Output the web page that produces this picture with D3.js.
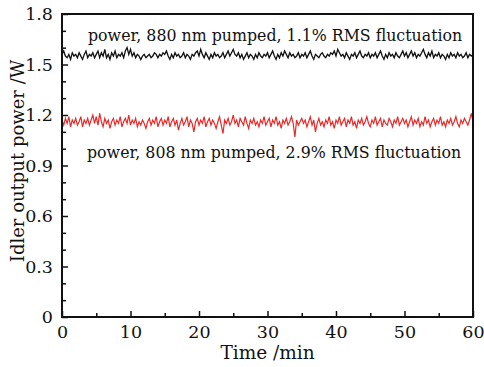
<!DOCTYPE html>
<html>
<head>
<meta charset="utf-8">
<script src="https://cdn.jsdelivr.net/npm/d3@7"></script>
<style>
body { margin: 0; background: #fff; }
text { font-family: "DejaVu Serif", serif; fill: #111; }
</style>
</head>
<body>
<div id="chart"></div>
<script>
let svgWidth = 484;
let svgHeight = 367;

let margin = { top: 14, right: 11, bottom: 50, left: 62 };
let width = svgWidth - margin.left - margin.right;
let height = svgHeight - margin.top - margin.bottom;

// sampling step of the recorded traces (min)
let sampleStep = 0.25;

// 880 nm pumped trace (W)
let power880 = [
  1.56,1.58,1.55,1.54,1.56,1.53,1.57,1.55,1.56,1.54,1.57,1.55,1.53,1.56,1.58,1.54,1.56,1.55,1.57,1.54,
  1.56,1.58,1.54,1.57,1.55,1.59,1.54,1.56,1.53,1.57,1.55,1.58,1.54,1.56,1.55,1.57,1.54,1.58,1.60,1.56,
  1.59,1.55,1.57,1.54,1.56,1.55,1.53,1.55,1.56,1.54,1.55,1.56,1.54,1.55,1.57,1.56,1.54,1.56,1.55,1.57,
  1.56,1.58,1.55,1.53,1.56,1.54,1.57,1.55,1.56,1.54,1.55,1.57,1.54,1.56,1.55,1.53,1.56,1.55,1.57,1.58,
  1.55,1.59,1.56,1.54,1.57,1.55,1.53,1.56,1.54,1.57,1.55,1.56,1.54,1.55,1.57,1.54,1.56,1.58,1.55,1.57,
  1.59,1.56,1.55,1.57,1.54,1.56,1.53,1.55,1.57,1.54,1.56,1.55,1.53,1.56,1.54,1.57,1.55,1.54,1.56,1.55,
  1.57,1.54,1.56,1.58,1.55,1.53,1.56,1.54,1.57,1.55,1.58,1.56,1.54,1.57,1.55,1.56,1.54,1.55,1.57,1.54,
  1.56,1.55,1.57,1.54,1.56,1.58,1.55,1.53,1.56,1.55,1.54,1.56,1.57,1.55,1.54,1.56,1.55,1.57,1.56,1.58,
  1.55,1.59,1.57,1.55,1.56,1.54,1.57,1.55,1.53,1.56,1.55,1.57,1.54,1.56,1.58,1.55,1.54,1.56,1.55,1.57,
  1.54,1.56,1.55,1.57,1.54,1.56,1.58,1.55,1.53,1.56,1.54,1.57,1.55,1.56,1.54,1.57,1.55,1.54,1.56,1.58,
  1.55,1.57,1.54,1.56,1.58,1.55,1.57,1.54,1.56,1.55,1.57,1.59,1.56,1.54,1.57,1.55,1.58,1.54,1.56,1.55,
  1.57,1.54,1.56,1.55,1.53,1.56,1.54,1.57,1.55,1.56,1.54,1.57,1.55,1.56,1.54,1.55,1.57,1.54,1.56,1.55,
  1.56
];

// 808 nm pumped trace (W)
let power808 = [
  1.17,1.14,1.18,1.15,1.19,1.13,1.17,1.15,1.18,1.14,1.16,1.19,1.13,1.17,1.15,1.18,1.14,1.17,1.20,1.15,
  1.19,1.14,1.21,1.16,1.13,1.18,1.15,1.17,1.12,1.16,1.18,1.14,1.17,1.15,1.19,1.13,1.16,1.18,1.15,1.20,
  1.14,1.17,1.15,1.18,1.13,1.16,1.14,1.17,1.15,1.12,1.16,1.18,1.14,1.17,1.15,1.19,1.13,1.16,1.18,1.14,
  1.17,1.15,1.19,1.13,1.16,1.18,1.14,1.17,1.11,1.15,1.18,1.14,1.16,1.19,1.13,1.17,1.15,1.10,1.16,1.18,
  1.14,1.17,1.15,1.19,1.13,1.16,1.18,1.14,1.17,1.15,1.12,1.16,1.19,1.14,1.09,1.17,1.15,1.18,1.14,1.16,
  1.20,1.15,1.17,1.13,1.18,1.16,1.14,1.19,1.15,1.12,1.17,1.15,1.18,1.14,1.16,1.13,1.17,1.15,1.19,1.14,
  1.16,1.18,1.13,1.17,1.15,1.19,1.14,1.16,1.12,1.17,1.15,1.18,1.14,1.16,1.19,1.15,1.07,1.17,1.14,1.16,
  1.18,1.15,1.17,1.13,1.16,1.19,1.14,1.17,1.10,1.15,1.18,1.14,1.16,1.13,1.17,1.15,1.19,1.14,1.16,1.12,
  1.17,1.15,1.19,1.14,1.16,1.18,1.13,1.17,1.15,1.19,1.14,1.16,1.12,1.17,1.15,1.18,1.14,1.16,1.19,1.15,
  1.13,1.17,1.15,1.19,1.14,1.16,1.18,1.13,1.17,1.15,1.14,1.18,1.16,1.13,1.17,1.15,1.19,1.14,1.16,1.18,
  1.15,1.17,1.13,1.16,1.19,1.14,1.17,1.15,1.18,1.13,1.16,1.14,1.19,1.15,1.17,1.13,1.16,1.18,1.14,1.17,
  1.15,1.19,1.14,1.16,1.13,1.17,1.15,1.18,1.14,1.16,1.19,1.15,1.13,1.17,1.15,1.18,1.16,1.14,1.17,1.21,
  1.16
];

let xTicks = [0, 10, 20, 30, 40, 50, 60];
let xMinorTicks = [5, 15, 25, 35, 45, 55];
let yTicks = [0, 0.3, 0.6, 0.9, 1.2, 1.5, 1.8];
let yMinorTicks = [0.1, 0.2, 0.4, 0.5, 0.7, 0.8, 1.0, 1.1, 1.3, 1.4, 1.6, 1.7];

let label880 = "power, 880 nm pumped, 1.1% RMS fluctuation";
let label808 = "power, 808 nm pumped, 2.9% RMS fluctuation";

let svg = d3.select("#chart")
  .append("svg")
  .attr("width", svgWidth)
  .attr("height", svgHeight);

let chartGroup = svg.append("g")
  .attr("transform", `translate(${margin.left}, ${margin.top})`);

let xScale = d3.scaleLinear().domain([0, 60]).range([0, width]);
let yScale = d3.scaleLinear().domain([0, 1.8]).range([height, 0]);

// traces
let line = d3.line()
  .x((d, i) => xScale(i * sampleStep))
  .y(d => yScale(d));

chartGroup.append("path")
  .datum(power880)
  .attr("fill", "none")
  .attr("stroke", "#111")
  .attr("stroke-width", 1.3)
  .attr("d", line);

chartGroup.append("path")
  .datum(power808)
  .attr("fill", "none")
  .attr("stroke", "#ea2a2a")
  .attr("stroke-width", 1.2)
  .attr("d", line);

// axes, ticks pointing inward
let bottomAxis = d3.axisBottom(xScale).tickValues(xTicks).tickSizeInner(-6).tickSizeOuter(0).tickPadding(9);
let bottomMinor = d3.axisBottom(xScale).tickValues(xMinorTicks).tickSizeInner(-4).tickSizeOuter(0).tickFormat("");
let leftAxis = d3.axisLeft(yScale).tickValues(yTicks).tickSizeInner(-6).tickSizeOuter(0).tickPadding(9)
  .tickFormat(d => d === 0 ? "0" : d3.format(".1f")(d));
let leftMinor = d3.axisLeft(yScale).tickValues(yMinorTicks).tickSizeInner(-4).tickSizeOuter(0).tickFormat("");

chartGroup.append("g").attr("transform", `translate(0, ${height})`).call(bottomAxis);
chartGroup.append("g").attr("transform", `translate(0, ${height})`).call(bottomMinor);
chartGroup.append("g").call(leftAxis);
chartGroup.append("g").call(leftMinor);

chartGroup.selectAll(".domain").remove();
chartGroup.selectAll(".tick line").attr("stroke", "#111").attr("stroke-width", 1.5);
chartGroup.selectAll(".tick text")
  .style("font-family", "'DejaVu Serif', serif")
  .style("font-size", "17.5px")
  .attr("fill", "#111");

// frame
chartGroup.append("rect")
  .attr("x", 0)
  .attr("y", 0)
  .attr("width", width)
  .attr("height", height)
  .attr("fill", "none")
  .attr("stroke", "#111")
  .attr("stroke-width", 2);

// labels inside the plot
chartGroup.append("text")
  .attr("x", 26)
  .attr("y", 27)
  .style("font-size", "15.8px")
  .text(label880);

chartGroup.append("text")
  .attr("x", 25)
  .attr("y", 144)
  .style("font-size", "15.8px")
  .text(label808);

// axis titles
svg.append("text")
  .attr("x", margin.left + width / 2)
  .attr("y", 359)
  .attr("text-anchor", "middle")
  .style("font-size", "18.5px")
  .text("Time /min");

svg.append("text")
  .attr("transform", "rotate(-90)")
  .attr("x", -161)
  .attr("y", 24)
  .attr("text-anchor", "middle")
  .style("font-size", "18px")
  .text("Idler output power /W");
</script>
</body>
</html>
